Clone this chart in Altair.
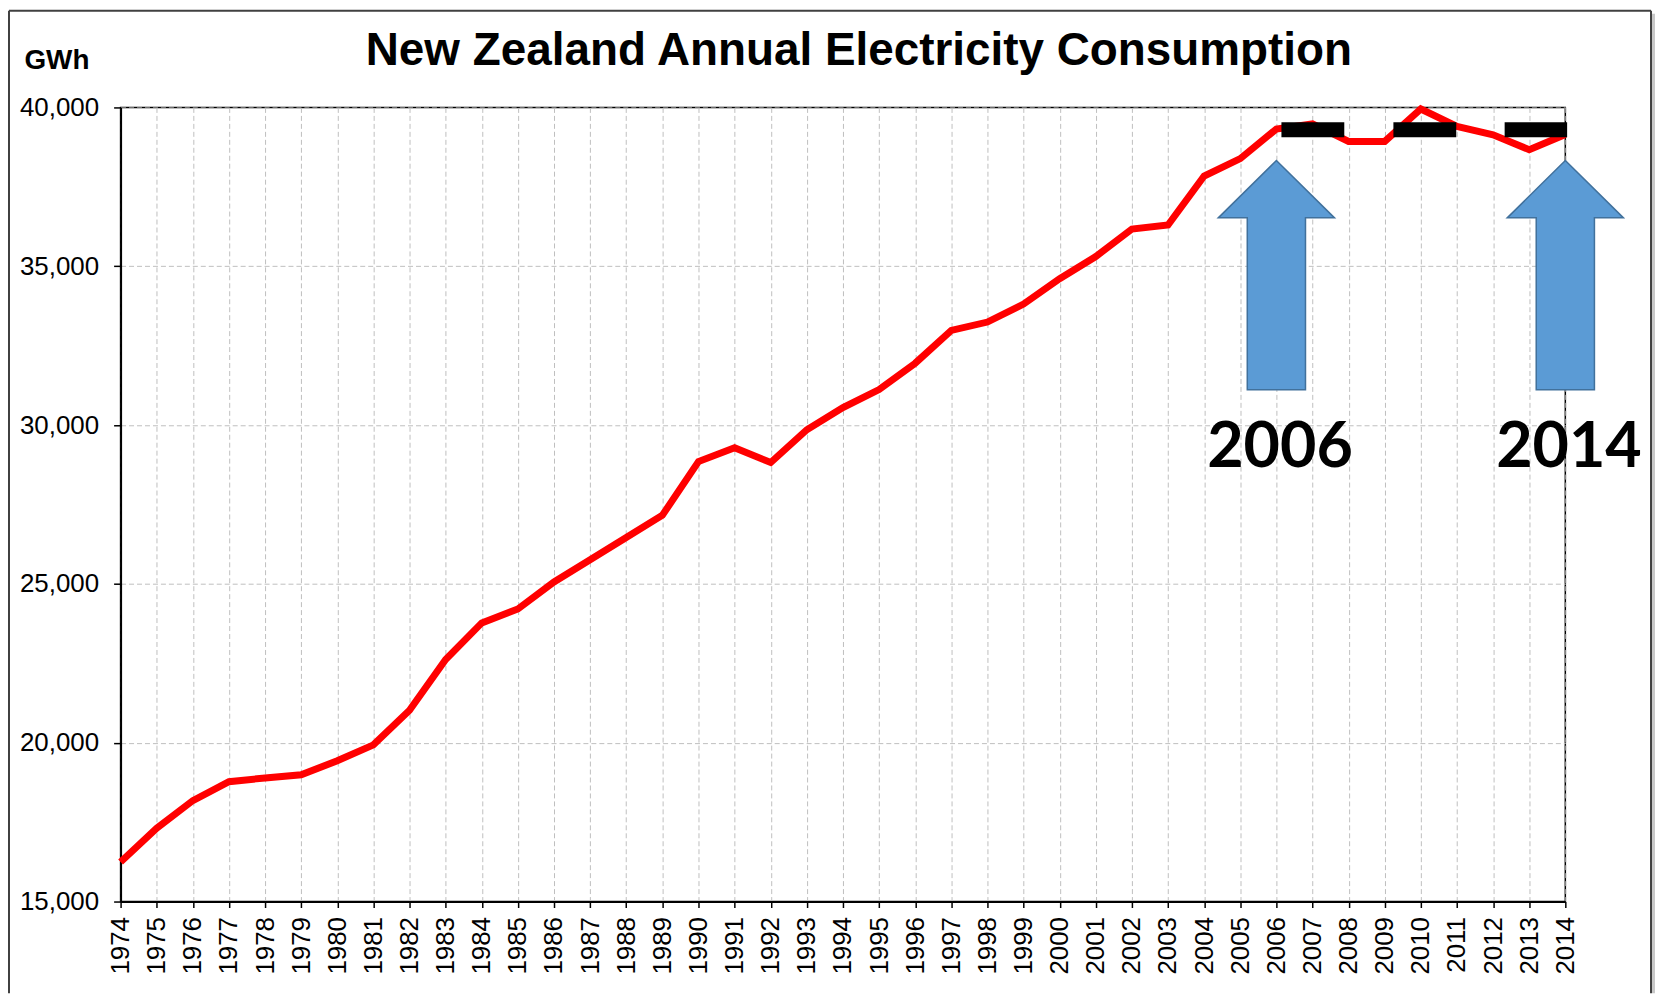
import altair as alt
import pandas as pd

# ---------------- data ----------------
years = list(range(1974, 2015))
gwh = [16245, 17312, 18178, 18774, 18890, 18993, 19432, 19934, 21023, 22622,
       23773, 24212, 25060, 25759, 26458, 27160, 28852, 29285, 28821, 29853,
       30549, 31116, 31948, 32980, 33244, 33811, 34608, 35307, 36173, 36300,
       37840, 38390, 39320, 39480, 38930, 38930, 39950, 39400, 39140, 38670, 39150]
y_ticks = [15000, 20000, 25000, 30000, 35000, 40000]

title_text = ["New Zealand Annual Electricity Consumption"]

# black marker dashes near the top
dash_start = [2006.14, 2009.24, 2012.32]
dash_end = [2007.88, 2010.98, 2014.05]
dash_level = [39300, 39300, 39300]

# blue arrows and their year labels
arrow_year = [2006, 2014]
arrow_level = [34720, 34720]
label_year = [2006.1, 2014.1]
label_level = [28690, 28690]
label_text = ["2006", "2014"]

# ---------------- tables ----------------
line_df = pd.DataFrame({"year": years, "gwh": gwh})
dash_df = pd.DataFrame({"year": dash_start, "year2": dash_end, "gwh": dash_level})
arrow_df = pd.DataFrame({"year": arrow_year, "gwh": arrow_level})
label_df = pd.DataFrame({"year": label_year, "gwh": label_level, "label": label_text})
title_df = pd.DataFrame({"t": title_text})
one = pd.DataFrame({"k": [0]})

PLOT_W, PLOT_H = 1450, 797

x_scale = alt.Scale(domain=[1974, 2014], nice=False, zero=False)
y_scale = alt.Scale(domain=[15000, 40000], nice=False, zero=False)

x_axis = alt.Axis(values=years, format="d", labelAngle=-90,
                  labelFontSize=26, labelPadding=9, tickSize=6,
                  labelOverlap=False, labelFlush=False, labelBound=False,
                  grid=True, gridDash=[5, 3], gridColor="#BFBFBF", gridWidth=1,
                  title=None)
y_axis = alt.Axis(values=y_ticks, format=",d", labelFontSize=26,
                  labelPadding=15, tickSize=7, labelOverlap=False,
                  labelFlush=False, labelBound=False,
                  grid=True, gridDash=[5, 3], gridColor="#BFBFBF", gridWidth=1,
                  title="GWh", titleAngle=0, titleAlign="left",
                  titleBaseline="alphabetic", titleX=-97, titleY=-39,
                  titleFontSize=28, titleFontWeight="bold", titleColor="black")


def X(field="year"):
    return alt.X(f"{field}:Q", scale=x_scale, axis=x_axis)


def Y(field="gwh"):
    return alt.Y(f"{field}:Q", scale=y_scale, axis=y_axis)


line = alt.Chart(line_df).mark_line(color="#FF0000", strokeWidth=7,
                                    strokeJoin="miter").encode(x=X(), y=Y())

dashes = alt.Chart(dash_df).mark_rule(color="black", strokeWidth=15,
                                      strokeCap="butt").encode(
    x=X(), x2="year2:Q", y=Y())

arrow_path = ("M 0 -1 L 0.507 -0.5 L 0.254 -0.5 L 0.254 1 L -0.254 1 "
              "L -0.254 -0.5 L -0.507 -0.5 Z")
arrows = alt.Chart(arrow_df).mark_point(
    shape=arrow_path, size=52900, filled=True, fill="#5B9BD5",
    stroke="#41719C", strokeWidth=1.5, opacity=1).encode(x=X(), y=Y())

labels = alt.Chart(label_df).mark_text(
    font="Lato", fontSize=63, fontWeight="bold", baseline="alphabetic",
    align="center", color="black").encode(x=X(), y=Y(), text="label:N")

# chart title as a text mark placed above the plot area
title = alt.Chart(title_df).mark_text(
    font="Liberation Sans", fontSize=46, fontWeight="bold",
    baseline="alphabetic", align="center", color="black").encode(
    x=alt.value(741), y=alt.value(-43), text="t:N")

# outer chart frame (decoration)
frame_col = "#404040"
frame_top = alt.Chart(one).mark_rule(color=frame_col, strokeWidth=2).encode(
    x=alt.value(-112), x2=alt.value(1536), y=alt.value(-97))
frame_left = alt.Chart(one).mark_rule(color=frame_col, strokeWidth=2).encode(
    x=alt.value(-112), y=alt.value(-97), y2=alt.value(889))
frame_right = alt.Chart(one).mark_rule(color=frame_col, strokeWidth=2).encode(
    x=alt.value(1536), y=alt.value(-97), y2=alt.value(889))
frame_shadow = alt.Chart(one).mark_rule(color="#C8C8C8", strokeWidth=4).encode(
    x=alt.value(1539), y=alt.value(-94), y2=alt.value(889))

chart = alt.layer(
    line, dashes, arrows, labels, title,
    frame_top, frame_left, frame_right, frame_shadow
).properties(
    width=PLOT_W, height=PLOT_H,
    autosize=alt.AutoSizeParams(type="none"),
    padding={"left": 113, "top": 98, "right": 90, "bottom": 92},
    background="white",
).configure(
    font="Liberation Sans",
).configure_view(
    stroke="black", strokeWidth=1.5,
).configure_axis(
    domainColor="black", domainWidth=2, tickColor="black", tickWidth=1.5,
    labelColor="black", labelFont="Liberation Sans", titleFont="Liberation Sans",
)

chart.save("out.html", embed_options={"renderer": "svg", "actions": False})
